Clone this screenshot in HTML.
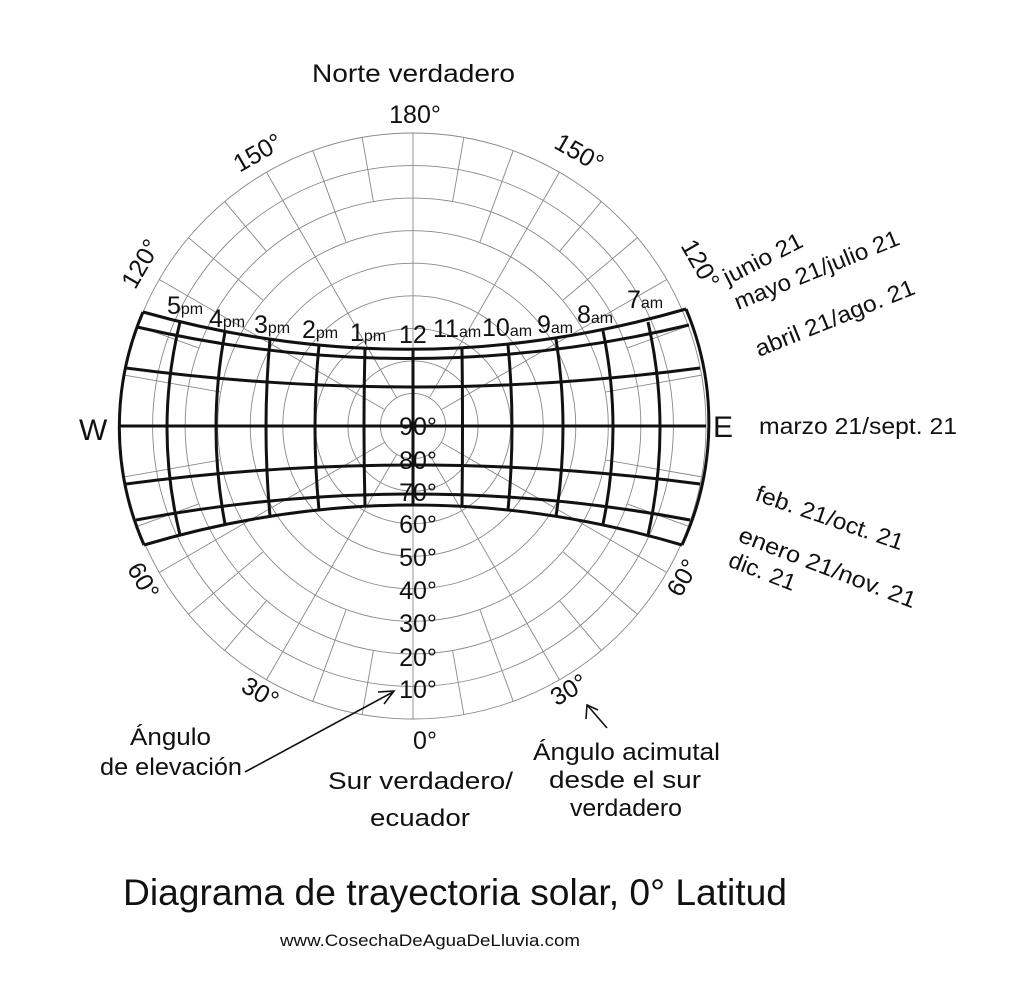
<!DOCTYPE html>
<html><head><meta charset="utf-8"><style>
html,body{margin:0;padding:0;background:#fff;}
svg{display:block;}
text{font-family:"Liberation Sans",sans-serif;fill:#111;}
</style></head><body>
<svg width="1024" height="997" viewBox="0 0 1024 997" xmlns="http://www.w3.org/2000/svg">
<rect width="1024" height="997" fill="#fff"/>
<g transform="translate(413,426)" fill="none" stroke="#888" stroke-width="0.9">
<circle r="32.6"/><circle r="65.1"/><circle r="97.7"/><circle r="130.2"/><circle r="162.8"/><circle r="195.3"/><circle r="227.9"/><circle r="260.4"/><circle r="293"/>
<line x1="0" y1="-293" x2="0" y2="293"/>
<g>
<line x1="0" y1="33" x2="0" y2="293" transform="rotate(30)"/><line x1="0" y1="33" x2="0" y2="293" transform="rotate(60)"/>
<line x1="0" y1="33" x2="0" y2="293" transform="rotate(120)"/><line x1="0" y1="33" x2="0" y2="293" transform="rotate(150)"/>
<line x1="0" y1="33" x2="0" y2="293" transform="rotate(-30)"/><line x1="0" y1="33" x2="0" y2="293" transform="rotate(-60)"/>
<line x1="0" y1="33" x2="0" y2="293" transform="rotate(-120)"/><line x1="0" y1="33" x2="0" y2="293" transform="rotate(-150)"/>
</g>
<g>
<line x1="0" y1="228" x2="0" y2="293" transform="rotate(10)"/><line x1="0" y1="196" x2="0" y2="293" transform="rotate(20)"/>
<line x1="0" y1="228" x2="0" y2="293" transform="rotate(40)"/><line x1="0" y1="196" x2="0" y2="293" transform="rotate(50)"/>
<line x1="0" y1="228" x2="0" y2="293" transform="rotate(70)"/><line x1="0" y1="196" x2="0" y2="293" transform="rotate(80)"/>
<line x1="0" y1="196" x2="0" y2="293" transform="rotate(100)"/><line x1="0" y1="228" x2="0" y2="293" transform="rotate(110)"/>
<line x1="0" y1="196" x2="0" y2="293" transform="rotate(130)"/><line x1="0" y1="228" x2="0" y2="293" transform="rotate(140)"/>
<line x1="0" y1="196" x2="0" y2="293" transform="rotate(160)"/><line x1="0" y1="228" x2="0" y2="293" transform="rotate(170)"/>
<line x1="0" y1="228" x2="0" y2="293" transform="rotate(-10)"/><line x1="0" y1="196" x2="0" y2="293" transform="rotate(-20)"/>
<line x1="0" y1="228" x2="0" y2="293" transform="rotate(-40)"/><line x1="0" y1="196" x2="0" y2="293" transform="rotate(-50)"/>
<line x1="0" y1="228" x2="0" y2="293" transform="rotate(-70)"/><line x1="0" y1="196" x2="0" y2="293" transform="rotate(-80)"/>
<line x1="0" y1="196" x2="0" y2="293" transform="rotate(-100)"/><line x1="0" y1="228" x2="0" y2="293" transform="rotate(-110)"/>
<line x1="0" y1="196" x2="0" y2="293" transform="rotate(-130)"/><line x1="0" y1="228" x2="0" y2="293" transform="rotate(-140)"/>
<line x1="0" y1="196" x2="0" y2="293" transform="rotate(-160)"/><line x1="0" y1="228" x2="0" y2="293" transform="rotate(-170)"/>
</g>
</g>
<g fill="none" stroke="#111" stroke-width="3">
<path d="M143,312 Q413,388 686,309"/>
<path d="M137,327 Q413,391 689,325"/>
<path d="M126,368 Q413,406 700,368"/>
<path d="M120,426 L706,426"/>
<path d="M126,484 Q413,446 700,484"/>
<path d="M136,520 Q413,468 690,520"/>
<path d="M144,545 Q413,465 682,545"/>
<path d="M143,312 A293,293 0 0 0 144,545"/>
<path d="M686,309 A293,293 0 0 1 682,545"/>
<path d="M180,322 Q154,428 180,535"/>
<path d="M225,332 Q207,428 225,524"/>
<path d="M270,339 Q262,428 270,516"/>
<path d="M319,345 Q311,428 319,510"/>
<path d="M365,349 Q363,428 365,506"/>
<path d="M413,350 L413,505"/>
<path d="M462,349 Q463,428 462,506"/>
<path d="M508,345 Q516,428 508,510"/>
<path d="M556,339 Q570,428 556,516"/>
<path d="M603,331 Q623,428 603,524"/>
<path d="M648,322 Q672,428 648,535"/>
</g>
<g font-size="25">
<text x="167" y="314">5<tspan font-size="16">pm</tspan></text>
<text x="209" y="327">4<tspan font-size="16">pm</tspan></text>
<text x="254" y="333">3<tspan font-size="16">pm</tspan></text>
<text x="302" y="338">2<tspan font-size="16">pm</tspan></text>
<text x="350" y="341">1<tspan font-size="16">pm</tspan></text>
<text x="399" y="343">12</text>
<text x="433" y="337">11<tspan font-size="16">am</tspan></text>
<text x="482" y="336">10<tspan font-size="16">am</tspan></text>
<text x="537" y="333">9<tspan font-size="16">am</tspan></text>
<text x="577" y="323">8<tspan font-size="16">am</tspan></text>
<text x="627" y="308">7<tspan font-size="16">am</tspan></text>
</g>
<g font-size="25" text-anchor="middle">
<text x="418" y="435">90°</text>
<text x="418" y="469">80°</text>
<text x="418" y="501">70°</text>
<text x="418" y="533">60°</text>
<text x="418" y="566">50°</text>
<text x="418" y="599">40°</text>
<text x="418" y="632">30°</text>
<text x="418" y="666">20°</text>
<text x="418" y="698">10°</text>
<text x="425" y="749">0°</text>
<text x="415" y="123">180°</text>
<text transform="translate(262,160) rotate(-30)">150°</text>
<text transform="translate(575,160) rotate(30)">150°</text>
<text transform="translate(148,268) rotate(-60)">120°</text>
<text transform="translate(693,268) rotate(60)">120°</text>
<text transform="translate(136,585) rotate(60)">60°</text>
<text transform="translate(690,582) rotate(-60)">60°</text>
<text transform="translate(256,700) rotate(30)">30°</text>
<text transform="translate(573,697) rotate(-30)">30°</text>
</g>
<text x="79" y="440" font-size="30">W</text>
<text x="713" y="437" font-size="30">E</text>
<text x="312" y="82" font-size="25" textLength="203" lengthAdjust="spacingAndGlyphs">Norte verdadero</text>
<g font-size="23">
<text transform="translate(728,285) rotate(-27)" textLength="86" lengthAdjust="spacingAndGlyphs">junio 21</text>
<text transform="translate(738,310) rotate(-22)" textLength="176" lengthAdjust="spacingAndGlyphs">mayo 21/julio 21</text>
<text transform="translate(759,357) rotate(-22)" textLength="170" lengthAdjust="spacingAndGlyphs">abril 21/ago. 21</text>
<text x="759" y="434" textLength="198" lengthAdjust="spacingAndGlyphs">marzo 21/sept. 21</text>
<text transform="translate(754,500) rotate(19)" textLength="155" lengthAdjust="spacingAndGlyphs">feb. 21/oct. 21</text>
<text transform="translate(737,541) rotate(21)" textLength="188" lengthAdjust="spacingAndGlyphs">enero 21/nov. 21</text>
<text transform="translate(727,566) rotate(21)" textLength="70" lengthAdjust="spacingAndGlyphs">dic. 21</text>
</g>
<g font-size="24">
<text x="130" y="745" textLength="81" lengthAdjust="spacingAndGlyphs">Ángulo</text>
<text x="100" y="775" textLength="142" lengthAdjust="spacingAndGlyphs">de elevación</text>
<text x="328" y="789" textLength="185" lengthAdjust="spacingAndGlyphs">Sur verdadero/</text>
<text x="370" y="826" textLength="100" lengthAdjust="spacingAndGlyphs">ecuador</text>
<text x="533" y="760" textLength="187" lengthAdjust="spacingAndGlyphs">Ángulo acimutal</text>
<text x="549" y="788" textLength="152" lengthAdjust="spacingAndGlyphs">desde el sur</text>
<text x="570" y="816" textLength="112" lengthAdjust="spacingAndGlyphs">verdadero</text>
</g>
<g stroke="#111" stroke-width="1.6" fill="none">
<line x1="245" y1="772" x2="393" y2="692"/>
<path d="M378,692 L394,691 L384,704"/>
<line x1="607" y1="728" x2="588" y2="706"/>
<path d="M586,719 L587,705 L598,710"/>
</g>
<text x="123" y="905" font-size="37" textLength="664" lengthAdjust="spacingAndGlyphs">Diagrama de trayectoria solar, 0° Latitud</text>
<text x="280" y="946" font-size="17" textLength="300" lengthAdjust="spacingAndGlyphs">www.CosechaDeAguaDeLluvia.com</text>
</svg>
</body></html>
